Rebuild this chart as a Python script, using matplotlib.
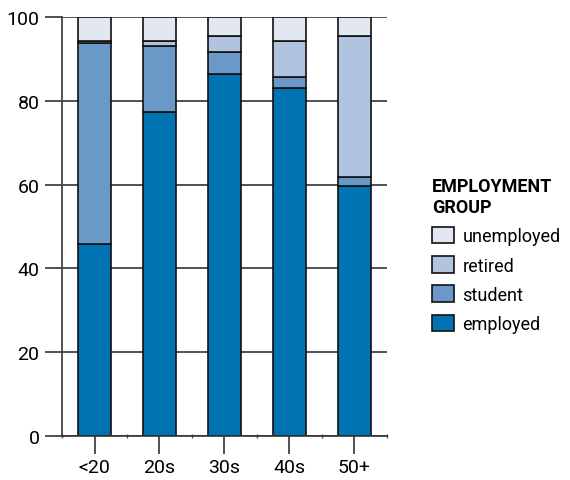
import matplotlib.pyplot as plt
import numpy as np

age_groups = ["<20", "20s", "30s", "40s", "50+"]
employed = [45.8, 77.4, 86.5, 83.1, 59.7]
student = [48.0, 15.8, 5.1, 2.7, 2.1]
retired = [0.5, 1.1, 3.9, 8.5, 33.7]
unemployed = [5.7, 5.7, 4.5, 5.7, 4.5]

series = [("employed", employed, "#0073b3"),
          ("student", student, "#6a99c8"),
          ("retired", retired, "#b0c4e0"),
          ("unemployed", unemployed, "#e1e8f2")]

plt.rcParams["font.family"] = ["Roboto", "DejaVu Sans"]

fig = plt.figure(figsize=(5.7, 4.81), dpi=100)
ax = fig.add_axes([0.1088, 0.0915, 0.570, 0.871])

x = np.arange(len(age_groups))
bottom = np.zeros(len(age_groups))
handles = []
for name, vals, color in series:
    b = ax.bar(x, vals, width=0.5, bottom=bottom, color=color,
               edgecolor="#111111", linewidth=1.2, label=name, zorder=3)
    handles.append(b)
    bottom += np.array(vals)

ax.set_xlim(-0.5, 4.5)
ax.set_ylim(0, 100)
ax.set_yticks(np.arange(0, 101, 20))
ax.set_xticks(x)
ax.set_xticklabels(age_groups)
ax.set_xticks(np.arange(-0.5, 4.6, 1), minor=True)

ax.grid(axis="y", color="#333333", linewidth=1.2, zorder=0)
for s in ["top", "right", "bottom"]:
    ax.spines[s].set_visible(False)
ax.spines["left"].set_color("#444444")
ax.spines["left"].set_linewidth(1.3)
ax.axhline(0, color="#333333", linewidth=1.2, zorder=4, clip_on=False)

ax.tick_params(axis="y", length=12.2, width=1.2, color="#333333",
               labelsize=14, pad=4)
ax.tick_params(axis="x", which="major", length=12.7, width=1.2,
               color="#333333", labelsize=14, pad=3)
ax.tick_params(axis="x", which="minor", length=3, width=1, direction="inout",
               color="#555555")

leg = ax.legend(handles[::-1], [s[0] for s in series][::-1],
                title="EMPLOYMENT\nGROUP", loc="upper left",
                bbox_to_anchor=(0.745, 0.645), bbox_transform=fig.transFigure,
                frameon=False, fontsize=13, title_fontsize=13,
                handlelength=1.2, handleheight=1.05, handletextpad=0.5,
                labelspacing=0.6, borderaxespad=0)
leg.get_title().set_fontweight("bold")
leg._legend_box.align = "left"

fig.savefig("out.png", dpi=100)
